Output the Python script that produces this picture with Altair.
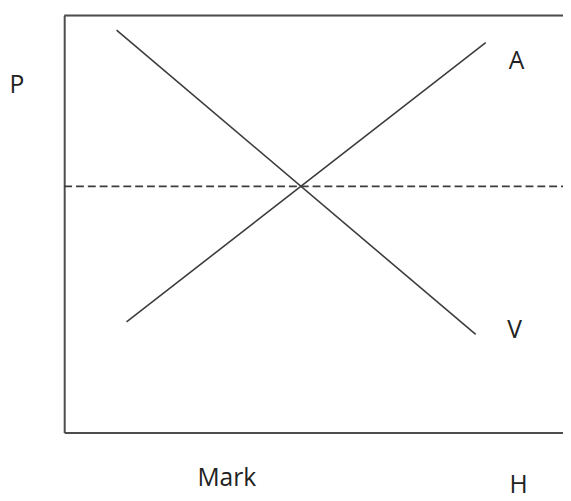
import altair as alt
import pandas as pd

# Lines (data units: 0..10 on both axes)
line_names = ["V", "V", "A", "A"]
line_x = [1.05, 8.25, 1.25, 8.45]
line_y = [9.65, 2.35, 2.65, 9.35]

# Dashed equilibrium level
dash_x = [0, 10]
dash_y = [5.9, 5.9]

# Top border of the frame
top_x = [0, 10]
top_y = [10, 10]

# Text labels (positions = baseline of the letters)
label_text = ["P", "A", "V", "Mark", "H"]
label_x = [-0.95, 9.07, 9.03, 3.26, 9.11]
label_y = [8.13, 8.72, 2.27, -1.28, -1.46]

lines_df = pd.DataFrame({"name": line_names, "x": line_x, "y": line_y})
dash_df = pd.DataFrame({"x": dash_x, "y": dash_y})
top_df = pd.DataFrame({"x": top_x, "y": top_y})
label_df = pd.DataFrame({"text": label_text, "x": label_x, "y": label_y})

xs = alt.Scale(domain=[0, 10], nice=False, zero=False)
ys = alt.Scale(domain=[0, 10], nice=False, zero=False)

axis_style = dict(labels=False, ticks=False, grid=False, title=None,
                  domainColor="#4d4d4d", domainWidth=2)

lines = alt.Chart(lines_df).mark_line(color="#3c3c3c", strokeWidth=1.6, clip=False).encode(
    x=alt.X("x:Q", scale=xs, axis=alt.Axis(**axis_style)),
    y=alt.Y("y:Q", scale=ys, axis=alt.Axis(**axis_style)),
    detail="name:N",
)

dash = alt.Chart(dash_df).mark_line(color="#3c3c3c", strokeWidth=1.8, strokeDash=[8, 4], clip=False).encode(
    x=alt.X("x:Q", scale=xs), y=alt.Y("y:Q", scale=ys)
)

top = alt.Chart(top_df).mark_line(color="#4d4d4d", strokeWidth=2, clip=False).encode(
    x=alt.X("x:Q", scale=xs), y=alt.Y("y:Q", scale=ys)
)

labels = alt.Chart(label_df).mark_text(
    font="Open Sans", fontSize=25, color="#222222", align="center", baseline="alphabetic", clip=False
).encode(
    x=alt.X("x:Q", scale=xs), y=alt.Y("y:Q", scale=ys), text="text:N"
)

chart = alt.layer(lines, dash, top, labels).properties(
    width=506, height=423,
    autosize=alt.AutoSizeParams(type="none"),
    padding={"left": 57, "top": 4, "right": 0, "bottom": 66},
).configure_view(stroke=None).configure(background="white")

chart.save("out.html", embed_options={"renderer": "svg", "actions": False})
